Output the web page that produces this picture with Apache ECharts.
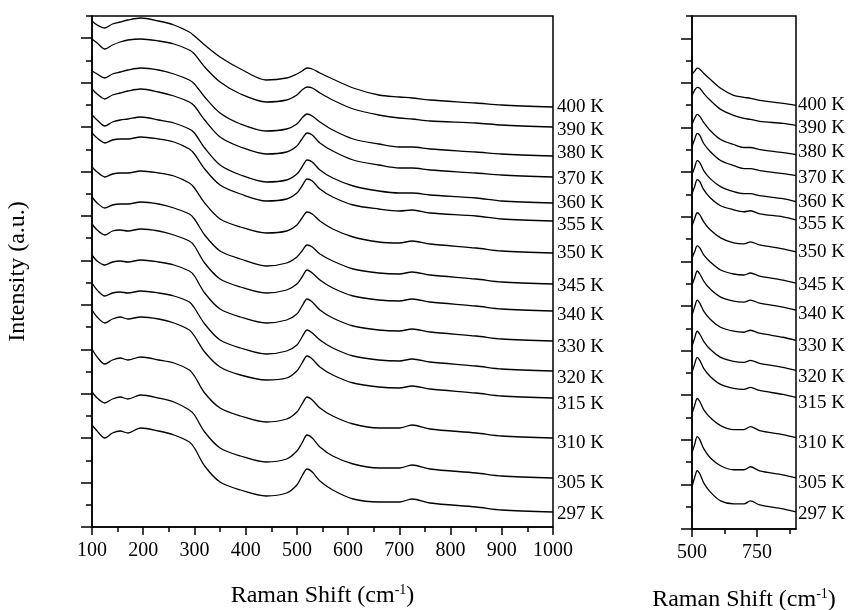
<!DOCTYPE html>
<html>
<head>
<meta charset="utf-8">
<script src="https://cdn.jsdelivr.net/npm/echarts@6/dist/echarts.min.js"></script>
<style>
  html, body { margin: 0; padding: 0; background: #fff; }
  #chart { width: 857px; height: 610px; }
</style>
</head>
<body>
<div id="chart"></div>
<script>
// Raman shift grid (cm-1) shared by all spectra
const ramanShift = [100,110,125,140,155,170,195,230,260,290,300,320,350,390,440,480,500,510,520,530,545,570,610,660,700,725,760,850,900,1000];

const temperatures = ['400 K','390 K','380 K','370 K','360 K','355 K','350 K','345 K','340 K','330 K','320 K','315 K','310 K','305 K','297 K'];

// vertical offset of each spectrum (level at 1000 cm-1, a.u.)
const offsets = [420,400,371,350,324,306,274,243,216,186,156,129,89,49,15];

// intensity above the 1000 cm-1 level, one row per temperature
const s400 = [86,82,79,83,85,87,89,86,82,75,71,62,50,38,27,29,33,36,39,38,34,28,19,12,10,9,7,4,2,0];
const s390 = [88,84,78,82,85,87,88,86,83,77,73,60,45,33,25,27,32,37,40,39,34,27,18,12,9,8,6,4,2,0];
const s380 = [85,82,78,82,84,86,88,86,82,76,72,59,43,32,25,27,32,38,42,40,34,26,17,12,9,9,7,4,2,0];
const s370 = [88,83,78,82,84,86,88,85,81,75,71,57,40,30,23,25,31,38,44,42,34,26,17,12,9,9,7,4,2,0];
const s360 = [88,83,77,81,83,84,86,83,80,74,70,55,38,28,21,23,29,36,43,41,33,25,17,12,10,10,8,5,2,0];
const s355 = [88,83,78,81,82,82,84,82,79,72,67,52,36,27,20,22,28,35,42,40,32,24,16,12,10,11,8,5,2,0];
const s350 = [86,81,76,79,80,80,82,80,77,70,65,50,34,26,20,22,28,35,41,39,32,24,16,11,10,12,9,5,2,0];
const s345 = [87,81,76,79,80,80,82,80,76,70,65,49,33,25,18,21,27,33,39,37,30,23,15,11,10,12,9,5,2,0];
const s340 = [87,81,76,80,81,80,82,80,76,70,65,48,32,24,18,21,27,34,41,38,31,23,15,11,10,12,9,5,2,0];
const s330 = [86,80,76,79,80,79,81,79,76,70,65,48,32,24,18,21,27,35,42,39,31,23,15,11,10,12,9,5,2,0];
const s320 = [88,81,75,78,79,78,80,78,75,69,63,47,31,23,17,20,26,34,41,38,31,23,15,11,10,12,9,5,2,0];
const s315 = [88,81,75,79,81,79,81,79,75,68,62,46,31,23,18,20,27,35,42,39,31,23,15,11,10,12,9,5,2,0];
const s310 = [89,81,74,78,80,78,81,78,75,68,62,45,30,22,16,19,26,34,41,38,30,22,14,10,10,13,9,5,2,0];
const s305 = [86,80,75,79,81,79,83,80,76,68,63,46,30,22,16,19,27,35,43,40,31,22,14,10,10,13,9,5,2,0];
const s297 = [87,81,74,79,81,79,84,81,77,70,64,46,30,22,16,19,27,36,43,40,31,22,13,10,10,13,9,5,2,0];
const spectra = [s400,s390,s380,s370,s360,s355,s350,s345,s340,s330,s320,s315,s310,s305,s297];

// ticks
const yMajorTicks = [0,44.43,88.87,133.3,177.74,222.17,266.61,311.04,355.48,399.91,444.35,488.78];
const yMinorTicks = [22.22,66.65,111.09,155.52,199.96,244.39,288.83,333.26,377.7,422.13,466.57,511];
const rightMajorTicks = [500,750];
const rightMinorTicks = [625,875];

// small label nudges (px) so the temperature tags sit like the original
const labelNudge = [0,3,-3,2,0,4,0,2,4,6,7,6,5,5,2];

const FONT = 'Liberation Serif';
const black = '#000';

const titleName = '{a|Raman Shift (cm}{s|-1}{a|)}';
const titleRich = {
    a: { fontFamily: FONT, fontSize: 24, color: black },
    s: { fontFamily: FONT, fontSize: 14, color: black, padding: [0, 0, 12, 0] }
};

const series = [];
temperatures.forEach(function (t, i) {
    const pts = ramanShift.map(function (x, j) { return [x, offsets[i] + spectra[i][j]]; });
    const common = {
        name: t,
        type: 'line',
        symbol: 'none',
        smooth: 0.3,
        silent: true,
        lineStyle: { color: black, width: 1.3 },
        endLabel: {
            show: true,
            formatter: t,
            fontFamily: FONT,
            fontSize: 19,
            color: black,
            offset: [0, labelNudge[i]]
        }
    };
    series.push(Object.assign({}, common, {
        xAxisIndex: 0, yAxisIndex: 0, data: pts,
        endLabel: Object.assign({}, common.endLabel, { distance: 4 })
    }));
    series.push(Object.assign({}, common, {
        xAxisIndex: 1, yAxisIndex: 2,
        data: pts.filter(function (p) { return p[0] >= 500 && p[0] <= 900; }),
        endLabel: Object.assign({}, common.endLabel, { distance: 2 })
    }));
});

function tickOnly(gridIndex, pos, len, values) {
    return {
        gridIndex: gridIndex, type: 'value', position: pos, min: 0, max: 511,
        axisLine: { show: false },
        axisTick: { show: true, length: len, customValues: values, lineStyle: { color: black, width: 1.5 } },
        splitLine: { show: false },
        axisLabel: { show: false }
    };
}

let myChart = echarts.init(document.getElementById('chart'));
myChart.setOption({
    animation: false,
    backgroundColor: '#fff',
    grid: [
        { left: 92, right: 304, top: 16, bottom: 83, outerBoundsMode: 'none', containLabel: false,
          show: true, borderColor: black, borderWidth: 1.5 },
        { left: 692, right: 61, top: 16, bottom: 81, outerBoundsMode: 'none', containLabel: false,
          show: true, borderColor: black, borderWidth: 1.5 }
    ],
    xAxis: [
        {
            gridIndex: 0, type: 'value', position: 'bottom', min: 100, max: 1000, interval: 100,
            axisLine: { show: true, lineStyle: { color: black, width: 1.5 } },
            axisTick: { show: true, inside: false, length: 8, lineStyle: { color: black, width: 1.5 } },
            minorTick: { show: true, splitNumber: 2, length: 5, lineStyle: { color: black, width: 1.5 } },
            splitLine: { show: false },
            axisLabel: { fontFamily: FONT, fontSize: 20, color: black, margin: 14,
                formatter: function (v) { return String(v); } },
            name: titleName, nameLocation: 'middle', nameGap: 56,
            nameTextStyle: { rich: titleRich }
        },
        {
            gridIndex: 1, type: 'value', position: 'bottom', min: 500, max: 900,
            axisLine: { show: true, lineStyle: { color: black, width: 1.5 } },
            axisTick: { show: true, length: 8, customValues: rightMajorTicks, lineStyle: { color: black, width: 1.5 } },
            splitLine: { show: false },
            axisLabel: { fontFamily: FONT, fontSize: 20, color: black, margin: 14, customValues: rightMajorTicks },
            name: titleName, nameLocation: 'middle', nameGap: 58,
            nameTextStyle: { rich: titleRich }
        },
        {
            gridIndex: 1, type: 'value', position: 'bottom', min: 500, max: 900,
            axisLine: { show: false },
            axisTick: { show: true, length: 5, customValues: rightMinorTicks, lineStyle: { color: black, width: 1.5 } },
            splitLine: { show: false },
            axisLabel: { show: false }
        }
    ],
    yAxis: [
        {
            gridIndex: 0, type: 'value', position: 'left', min: 0, max: 511,
            axisLine: { show: true, lineStyle: { color: black, width: 1.5 } },
            axisTick: { show: true, length: 11, customValues: yMajorTicks, lineStyle: { color: black, width: 1.5 } },
            splitLine: { show: false },
            axisLabel: { show: false },
            name: 'Intensity (a.u.)', nameLocation: 'middle', nameGap: 62,
            nameTextStyle: { fontFamily: FONT, fontSize: 24, color: black }
        },
        tickOnly(0, 'left', 6, yMinorTicks),
        {
            gridIndex: 1, type: 'value', position: 'left', min: 0, max: 511,
            axisLine: { show: true, lineStyle: { color: black, width: 1.5 } },
            axisTick: { show: true, length: 11, customValues: yMajorTicks, lineStyle: { color: black, width: 1.5 } },
            splitLine: { show: false },
            axisLabel: { show: false }
        },
        tickOnly(1, 'left', 6, yMinorTicks)
    ],
    series: series
});
</script>
</body>
</html>
